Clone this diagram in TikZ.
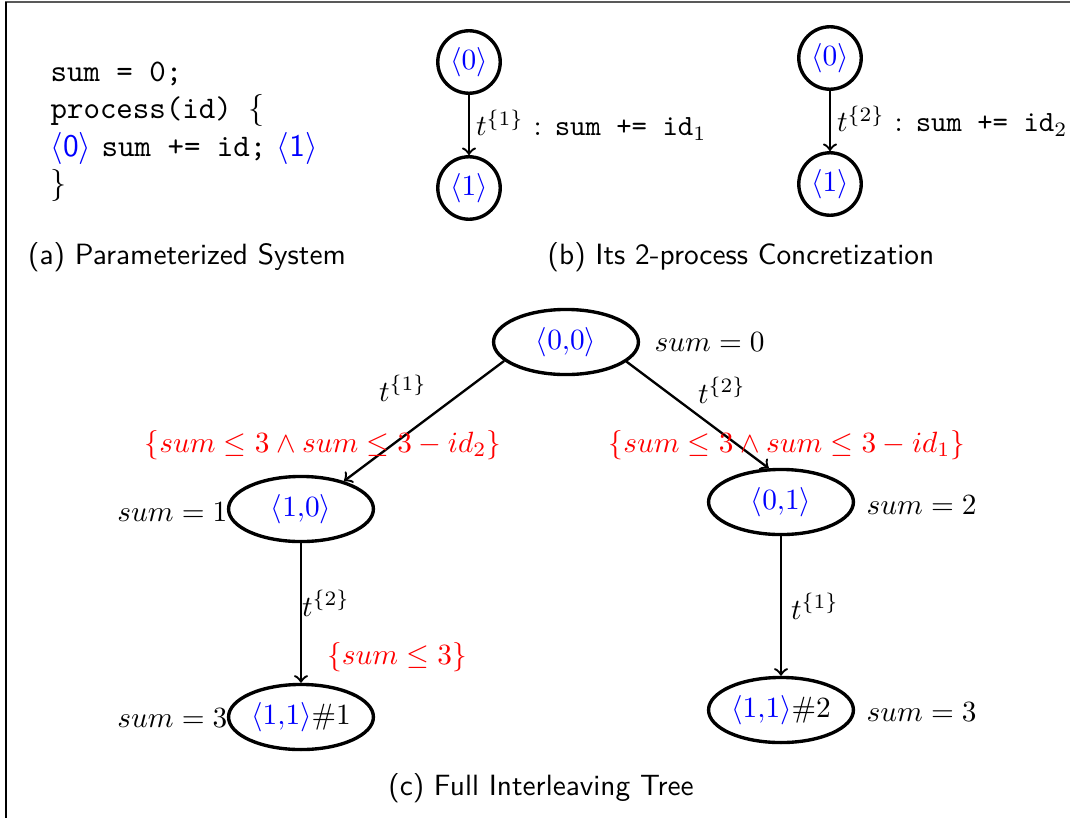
\documentclass[tikz,border=0pt]{standalone}
\usetikzlibrary{shapes.geometric}
\begin{document}
\begin{tikzpicture}[x=0.341pt,y=-0.341pt,
  st/.style={draw,ellipse,line width=1.15pt,minimum width=49.4pt,minimum height=22.2pt,inner sep=0pt},
  cst/.style={draw,circle,line width=1.15pt,minimum size=21.3pt,inner sep=0pt},
  edge/.style={->,line width=0.8pt},
  cond/.style={text=red,inner sep=0pt},
  lab/.style={inner sep=0pt},
  code/.style={inner sep=0pt,anchor=base west,font=\fontsize{10.7}{12.8}\selectfont},
  captxt/.style={inner sep=0pt,font=\sffamily}]
\useasboundingbox (0,0) rectangle (1070,818);
% frame
\draw[line width=0.6pt,black!65] (5,2) -- (1070,2);
\draw[line width=0.45pt] (6,2) -- (6,818);
% (a) code
\node[code] (l1) at (50,81) {\texttt{sum = 0;}};
\node[code] (l2) at (50,118) {\texttt{process(id) }$\{$};
\node[code] (l3) at (50,156) {\textcolor{blue}{$\langle$\textsf{0}$\rangle$} \texttt{sum += id;} \textcolor{blue}{$\langle$\textsf{1}$\rangle$}};
\node[code] (l4) at (50,193) {$\}$};
\node[captxt] (capa) at (187,257) {(a) Parameterized System};
% (b)
\node[cst] (a0) at (469,62) {\textcolor{blue}{$\langle 0\rangle$}};
\node[cst] (a1) at (469,188) {\textcolor{blue}{$\langle 1\rangle$}};
\draw[edge] (a0) -- node[lab,anchor=west,xshift=2pt] {$t^{\{1\}}$ : \texttt{sum += id}$_1$} (a1);
\node[cst] (b0) at (830,58) {\textcolor{blue}{$\langle 0\rangle$}};
\node[cst] (b1) at (830,184) {\textcolor{blue}{$\langle 1\rangle$}};
\draw[edge] (b0) -- node[lab,anchor=west,xshift=2pt] {$t^{\{2\}}$ : \texttt{sum += id}$_2$} (b1);
\node[captxt] (capb) at (741,257) {(b) Its 2-process Concretization};
% (c) tree
\node[st] (n00) at (566,342) {\textcolor{blue}{$\langle 0{,}0\rangle$}};
\node[st] (n10) at (301,509) {\textcolor{blue}{$\langle 1{,}0\rangle$}};
\node[st] (n01) at (781,502) {\textcolor{blue}{$\langle 0{,}1\rangle$}};
\node[st] (n11a) at (301,717) {\textcolor{blue}{$\langle 1{,}1\rangle$}$\#1$};
\node[st] (n11b) at (781,710) {\textcolor{blue}{$\langle 1{,}1\rangle$}$\#2$};
\node[lab,anchor=west] (s0) at (654,342) {$sum = 0$};
\node[lab,anchor=east] (s1) at (228,512) {$sum = 1$};
\node[lab,anchor=west] (s2) at (866,505) {$sum = 2$};
\node[lab,anchor=east] (s3a) at (228,718) {$sum = 3$};
\node[lab,anchor=west] (s3b) at (866,712) {$sum = 3$};
\draw[edge] (n00.197) -- (n10.33);
\draw[edge] (n00.342) -- (n01.110);
\draw[edge] (n10) -- (n11a);
\draw[edge] (n01) -- (n11b);
\node[lab] (t1) at (403,388) {$t^{\{1\}}$};
\node[lab] (t2) at (722,390) {$t^{\{2\}}$};
\node[lab] (t3) at (326,603) {$t^{\{2\}}$};
\node[lab] (t4) at (815,606) {$t^{\{1\}}$};
\node[cond] (c1) at (323,445) {$\{sum \leq 3 \wedge sum \leq 3 - id_2\}$};
\node[cond] (c2) at (787,445) {$\{sum \leq 3 \wedge sum \leq 3 - id_1\}$};
\node[cond] (c3) at (397,657) {$\{sum \leq 3\}$};
\node[captxt] (capc) at (541,788) {(c) Full Interleaving Tree};
\end{tikzpicture}
\end{document}
